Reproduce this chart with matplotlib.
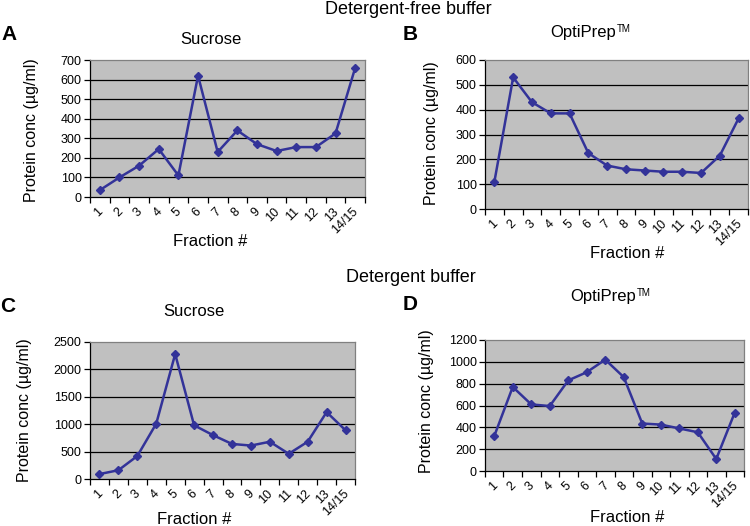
import numpy as np
import matplotlib
matplotlib.use('Agg')
import matplotlib.pyplot as plt

plt.rcParams['font.family'] = ['Liberation Sans', 'DejaVu Sans']

# 组分标签
fractions = ['1', '2', '3', '4', '5', '6', '7', '8', '9', '10', '11', '12', '13', '14/15']

# 各组分蛋白浓度 (µg/ml)
sucrose_free = [35, 100, 160, 245, 110, 620, 230, 340, 270, 235, 255, 255, 325, 660]
optiprep_free = [110, 530, 430, 385, 385, 225, 175, 160, 155, 150, 150, 145, 215, 365]
sucrose_det = [90, 160, 420, 1010, 2280, 980, 800, 640, 610, 680, 460, 680, 1220, 890]
optiprep_det = [320, 770, 610, 595, 830, 905, 1020, 860, 435, 425, 390, 355, 110, 535]

W, H = 750, 526
LINE_COLOR = '#333399'


def px_rect(left, top, right, bottom):
    """像素坐标转换为figure坐标"""
    return [left / W, (H - bottom) / H, (right - left) / W, (bottom - top) / H]


def draw_panel(fig, rect, values, ymax, ystep):
    ax = fig.add_axes(rect)
    n = len(values)
    x = np.arange(n) + 0.5
    ax.set_facecolor('#c0c0c0')
    ax.plot(x, values, color=LINE_COLOR, lw=1.8, marker='D', ms=4.5,
            mec=LINE_COLOR, mfc=LINE_COLOR, zorder=3)
    ax.set_xlim(0, n)
    ax.set_ylim(0, ymax)
    yt = np.arange(0, ymax + 1, ystep)
    ax.set_yticks(yt)
    ax.set_yticklabels([str(v) for v in yt], fontsize=9)
    for v in yt[1:-1]:
        ax.axhline(v, color='black', lw=0.9, zorder=1)
    # 主刻度在类别边界, 次刻度放标签
    ax.set_xticks(np.arange(n + 1))
    ax.set_xticklabels([])
    ax.set_xticks(x - 0.15, minor=True)
    ax.set_xticklabels(fractions, minor=True, rotation=45, ha='right',
                       va='top', rotation_mode='anchor', fontsize=9)
    ax.tick_params(axis='x', which='major', length=4, width=0.9, direction='out')
    ax.tick_params(axis='x', which='minor', length=0, pad=6)
    ax.tick_params(axis='y', length=4, width=0.9, pad=2)
    ax.spines['left'].set_color('black')
    ax.spines['bottom'].set_color('black')
    ax.spines['top'].set_color('#808080')
    ax.spines['right'].set_color('#808080')
    for s in ax.spines.values():
        s.set_linewidth(0.9)
    return ax


def main():
    fig = plt.figure(figsize=(W / 100, H / 100), dpi=100)

    draw_panel(fig, px_rect(90, 60, 365, 197), sucrose_free, 700, 100)
    draw_panel(fig, px_rect(485, 60, 748, 209), optiprep_free, 600, 100)
    draw_panel(fig, px_rect(90, 342, 355, 479), sucrose_det, 2500, 500)
    draw_panel(fig, px_rect(485, 340, 744, 471), optiprep_det, 1200, 200)

    def ftext(x, y, s, **kw):
        fig.text(x / W, 1 - y / H, s, ha='center', va='center', **kw)

    # 大标题
    ftext(408, 9, 'Detergent-free buffer', fontsize=13)
    ftext(411, 277, 'Detergent buffer', fontsize=13)

    # 面板字母
    for (px, py), lab in zip([(9, 35), (410, 34), (8, 306), (410, 305)], 'ABCD'):
        ftext(px, py, lab, fontsize=15, fontweight='bold')

    # 子图标题
    ftext(211, 40, 'Sucrose', fontsize=12)
    ftext(194, 312, 'Sucrose', fontsize=12)
    for cx, cy in [(583, 33), (603, 297)]:
        ftext(cx, cy, 'OptiPrep', fontsize=12)
        fig.text((cx + 34) / W, 1 - (cy - 4) / H, 'TM', fontsize=7,
                 ha='left', va='center')

    # 坐标轴标签
    ylab = 'Protein conc (µg/ml)'
    ftext(32, 130, ylab, fontsize=11.5, rotation=90)
    ftext(432, 133, ylab, fontsize=11.5, rotation=90)
    ftext(25, 410, ylab, fontsize=11.5, rotation=90)
    ftext(427, 401, ylab, fontsize=11.5, rotation=90)

    ftext(210, 241, 'Fraction #', fontsize=12)
    ftext(627, 253, 'Fraction #', fontsize=12)
    ftext(194, 520, 'Fraction #', fontsize=12)
    ftext(627, 517, 'Fraction #', fontsize=12)

    fig.savefig('out.png', dpi=100)
    plt.close(fig)


if __name__ == "__main__":
    main()
